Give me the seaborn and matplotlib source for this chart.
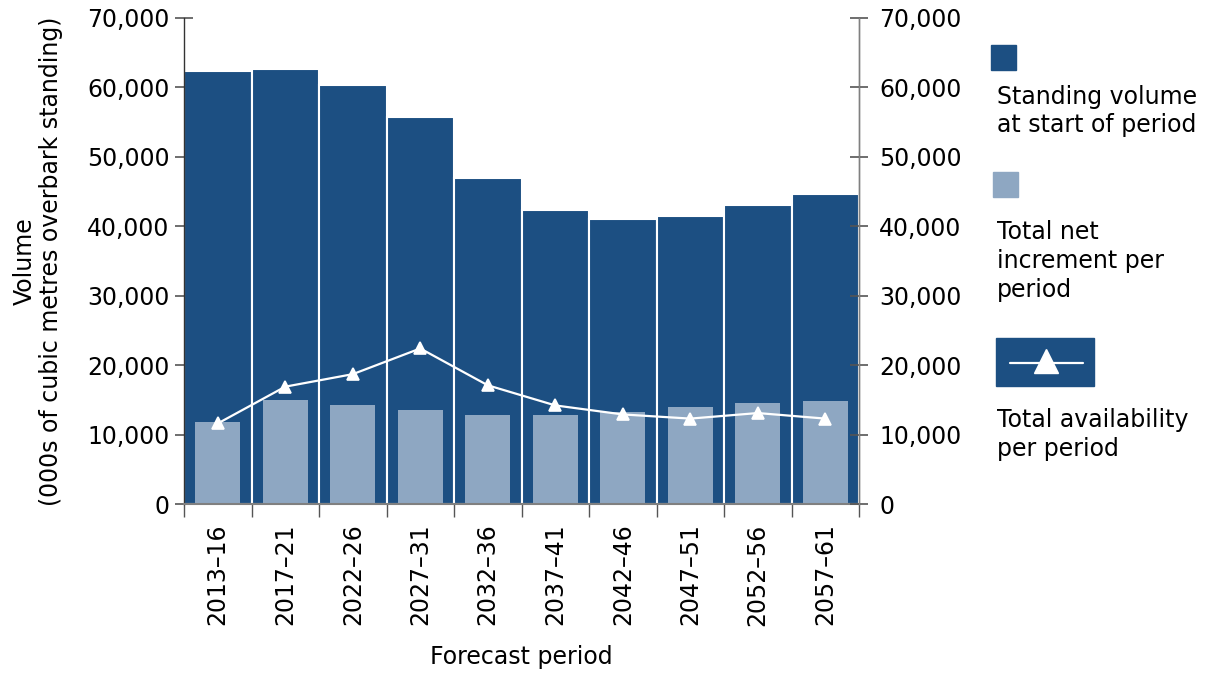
import matplotlib
matplotlib.use("Agg")
import matplotlib.pyplot as plt
from matplotlib.patches import Rectangle
from matplotlib.lines import Line2D
from matplotlib.ticker import FuncFormatter, FixedLocator, NullFormatter
import seaborn as sns
import pandas as pd

# Forecast periods and volumes (000s m3 overbark standing)
periods = ["2013\u201316", "2017\u201321", "2022\u201326", "2027\u201331", "2032\u201336",
           "2037\u201341", "2042\u201346", "2047\u201351", "2052\u201356", "2057\u201361"]
standing_volume = [62300, 62700, 60300, 55800, 47000, 42400, 41100, 41500, 43100, 44600]
net_increment = [11800, 15000, 14200, 13500, 12800, 12800, 13300, 13900, 14500, 14900]
availability = [11600, 16900, 18700, 22400, 17100, 14200, 12900, 12300, 13100, 12300]

DARK = "#1C4F82"
LIGHT = "#8EA7C2"
FS = 17

sns.set_theme(style="white")
plt.rcParams["font.family"] = ["DejaVu Sans"]
plt.rcParams["text.color"] = "black"
plt.rcParams["axes.labelcolor"] = "black"
plt.rcParams["xtick.color"] = "black"
plt.rcParams["ytick.color"] = "black"

df = pd.DataFrame({"period": periods, "standing": standing_volume,
                   "increment": net_increment, "avail": availability})

fig = plt.figure(figsize=(12.08, 6.73), dpi=100)
ax = fig.add_axes([184 / 1208, 1 - 504 / 673, (859 - 184) / 1208, (504 - 18) / 673])

sns.barplot(data=df, x="period", y="standing", color=DARK, width=1.0,
            edgecolor="white", linewidth=1.5, saturation=1, ax=ax)
sns.barplot(data=df, x="period", y="increment", color=LIGHT, width=0.67,
            edgecolor=LIGHT, linewidth=0, saturation=1, ax=ax)
sns.pointplot(data=df, x="period", y="avail", color="white", markers="^",
              markersize=9, linewidth=1.6, ax=ax)

ax.set_xlim(-0.5, len(periods) - 0.5)
ax.set_ylim(0, 70000)
yt = list(range(0, 70001, 10000))
fmt = FuncFormatter(lambda v, p: f"{int(v):,}")
ax.set_yticks(yt)
ax.yaxis.set_major_formatter(fmt)

# category labels at bar centres, tick marks at bar boundaries
ax.set_xticks(range(len(periods)))
ax.set_xticklabels(periods, rotation=90, fontsize=FS)
ax.xaxis.set_minor_locator(FixedLocator([i - 0.5 for i in range(len(periods) + 1)]))
ax.xaxis.set_minor_formatter(NullFormatter())
ax.tick_params(axis="x", which="major", length=0, pad=14, labelcolor="black")
ax.tick_params(axis="x", which="minor", length=9, width=1, color="#555555",
               direction="out", bottom=True)
ax.tick_params(axis="y", which="major", length=13, width=1.2, color="#555555",
               direction="inout", labelsize=FS, pad=4, left=True, labelcolor="black")

ax.set_xlabel("Forecast period", fontsize=FS, labelpad=14, color="black")
ax.set_ylabel("Volume\n(000s of cubic metres overbark standing)", fontsize=FS,
              labelpad=17, linespacing=1.1, color="black")

ax.spines["top"].set_visible(False)
ax.spines["left"].set_color("#333333")
ax.spines["left"].set_linewidth(1.0)
ax.spines["bottom"].set_color("#808080")
ax.spines["bottom"].set_linewidth(1.5)
ax.spines["right"].set_color("#808080")
ax.spines["right"].set_linewidth(1.0)

# mirrored scale on the right
ax2 = ax.twinx()
ax2.set_ylim(ax.get_ylim())
ax2.set_yticks(yt)
ax2.yaxis.set_major_formatter(fmt)
ax2.tick_params(axis="y", length=13, width=1.2, color="#555555",
                direction="inout", labelsize=FS, pad=8, right=True, labelcolor="black")
ax2.grid(False)
for side in ["top", "left", "bottom"]:
    ax2.spines[side].set_visible(False)
ax2.spines["right"].set_color("#808080")
ax2.spines["right"].set_linewidth(1.0)

# legend panel drawn in figure pixel coordinates
lg = fig.add_axes([0, 0, 1, 1], facecolor="none")
lg.set_xlim(0, 1208)
lg.set_ylim(673, 0)
lg.axis("off")
lg.add_patch(Rectangle((991, 45), 25, 25, color=DARK))
lg.text(997, 97, "Standing volume", fontsize=FS, va="center", ha="left")
lg.text(997, 125, "at start of period", fontsize=FS, va="center", ha="left")
lg.add_patch(Rectangle((993, 172), 25, 25, color=LIGHT))
lg.text(997, 232, "Total net", fontsize=FS, va="center", ha="left")
lg.text(997, 261, "increment per", fontsize=FS, va="center", ha="left")
lg.text(997, 290, "period", fontsize=FS, va="center", ha="left")
lg.add_patch(Rectangle((996, 338), 98, 48, color=DARK))
lg.add_line(Line2D([1010, 1083], [363, 363], color="white", lw=1.6))
lg.add_line(Line2D([1046], [361], color="white", marker="^", markersize=17, lw=0))
lg.text(997, 420, "Total availability", fontsize=FS, va="center", ha="left")
lg.text(997, 449, "per period", fontsize=FS, va="center", ha="left")

fig.savefig("out.png", dpi=100)
